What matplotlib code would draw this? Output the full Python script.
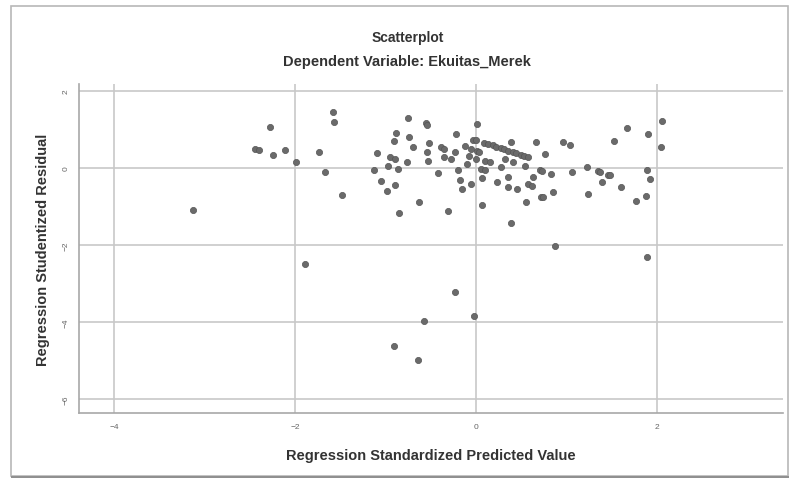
import numpy as np
import matplotlib.pyplot as plt
from matplotlib.patches import Rectangle

# standardized predicted values (x) and studentized residuals (y)
pred = [-3.13, -2.28, -2.45, -2.40, -2.25, -2.12, -1.99, -1.89, -1.74, -1.67,
        -1.58, -1.57, -1.49,
        -1.135, -1.10, -1.05, -0.99, -0.98, -0.95, -0.895, -0.895, -0.91, -0.89,
        -0.87, -0.86, -0.77, -0.76, -0.74, -0.70, -0.63, -0.56, -0.54, -0.52,
        -0.545, -0.53, -0.42, -0.39, -0.36, -0.36, -0.31, -0.28, -0.24, -0.23,
        -0.20, -0.18, -0.16, -0.12, -0.10, -0.085, -0.06, -0.055, -0.04, 0.00,
        0.01, 0.00, 0.01, 0.025, 0.05, 0.06, 0.06, 0.10, 0.10, 0.15,
        0.09, 0.13, 0.18, 0.22, 0.27, 0.31, 0.35, 0.40, 0.44, 0.49, 0.53, 0.57,
        0.23, 0.27, 0.32, 0.35, 0.35, 0.38, 0.38, 0.41, 0.45, 0.54, 0.55, 0.57,
        0.615, 0.63, 0.66, 0.70, 0.73, 0.71, 0.74, 0.755, 0.82, 0.85, 0.87,
        0.96, 1.04, 1.06, 1.22, 1.23, 1.34, 1.37, 1.39, 1.46, 1.48, 1.52, 1.60,
        1.67, 1.76, 1.875, 1.885, 1.89, 1.90, 1.92, 2.04, 2.05,
        -0.24, -0.575, -0.03, -0.91, -0.645]
resid = [-1.08, 1.06, 0.49, 0.47, 0.34, 0.48, 0.15, -2.49, 0.42, -0.09,
         1.46, 1.21, -0.70,
         -0.04, 0.39, -0.33, -0.60, 0.06, 0.28, 0.23, -0.45, 0.70, 0.92,
         -0.01, -1.17, 0.16, 1.30, 0.80, 0.54, -0.88, 1.16, 1.11, 0.64,
         0.43, 0.18, -0.13, 0.54, 0.50, 0.28, -1.12, 0.23, 0.43, 0.88,
         -0.05, -0.30, -0.55, 0.58, 0.10, 0.32, 0.49, -0.40, 0.74, 0.72,
         1.14, 0.23, 0.45, 0.42, -0.01, -0.26, -0.96, -0.05, 0.19, 0.15,
         0.66, 0.63, 0.59, 0.56, 0.52, 0.49, 0.45, 0.42, 0.38, 0.35, 0.31, 0.28,
         -0.37, 0.04, 0.23, -0.23, -0.48, 0.67, -1.43, 0.15, -0.55, 0.06, -0.87, -0.42,
         -0.46, -0.24, 0.67, -0.04, -0.07, -0.74, -0.76, 0.36, -0.16, -0.62, -2.02,
         0.67, 0.61, -0.09, 0.02, -0.68, -0.07, -0.09, -0.36, -0.17, -0.18, 0.71, -0.50,
         1.05, -0.86, -0.72, -2.32, -0.04, 0.89, -0.29, 0.54, 1.23,
         -3.21, -3.97, -3.84, -4.62, -4.98]

xticks = [-4, -2, 0, 2]
yticks = [2, 0, -2, -4, -6]

plt.rcParams['font.family'] = ['Liberation Sans', 'DejaVu Sans']

fig = plt.figure(figsize=(7.91, 4.81), dpi=100)
ax = fig.add_axes([0.100, 0.139, 0.890, 0.684])

# grid lines at the ticks
for t in xticks:
    ax.axvline(t, color='#c8c8c8', lw=1.2, zorder=0)
for t in yticks:
    ax.axhline(t, color='#c8c8c8', lw=1.2, zorder=0)

ax.scatter(pred, resid, s=20, color='#6a6a6a', edgecolors='#555555',
           linewidths=0.5, zorder=3)

ax.set_xlim(-4.39, 3.39)
ax.set_ylim(-6.36, 2.18)
ax.set_xticks(xticks)
ax.set_yticks(yticks)
ax.tick_params(length=0, labelsize=6, colors='#666666', pad=7)
for lab in ax.get_yticklabels():
    lab.set_rotation(90)
    lab.set_va('center')

for side in ['top', 'right']:
    ax.spines[side].set_visible(False)
for side in ['left', 'bottom']:
    ax.spines[side].set_color('#a8a8a8')
    ax.spines[side].set_linewidth(1.2)

ax.set_xlabel('Regression Standardized Predicted Value', fontsize=10.5,
              fontweight='bold', color='#333333', labelpad=13)
ax.set_ylabel('Regression Studentized Residual', fontsize=10.5,
              fontweight='bold', color='#333333', labelpad=9)

# titles
fig.text(0.515, 0.921, 'Scatterplot', ha='center', va='center',
         fontsize=10, fontweight='bold', color='#333333')
fig.text(0.515, 0.871, 'Dependent Variable: Ekuitas_Merek', ha='center',
         va='center', fontsize=10.5, fontweight='bold', color='#333333')

# outer frame of the screenshot
fig.patches.append(Rectangle((11 / 791, 4 / 481), 777 / 791, 470 / 481,
                             transform=fig.transFigure, fill=False,
                             edgecolor='#b8b8b8', lw=1.2))
fig.patches.append(Rectangle((11 / 791, 2 / 481), 778 / 791, 0.004,
                             transform=fig.transFigure, color='#909090',
                             lw=0))

plt.savefig('out.png', dpi=100)
